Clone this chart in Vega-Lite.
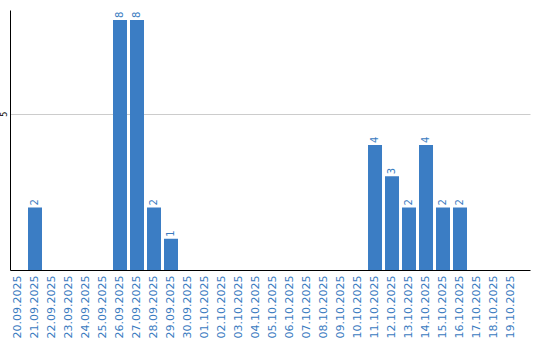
{
  "$schema": "https://vega.github.io/schema/vega-lite/v6.json",
  "width": 520,
  "height": 260,
  "autosize": {"type": "none"},
  "padding": {"left": 10, "top": 10, "right": 10, "bottom": 70},
  "background": "white",
  "config": {"view": {"stroke": null}, "font": "DejaVu Sans"},
  "data": {"values": [
    {"date": "20.09.2025", "v": 0},
    {"date": "21.09.2025", "v": 2},
    {"date": "22.09.2025", "v": 0},
    {"date": "23.09.2025", "v": 0},
    {"date": "24.09.2025", "v": 0},
    {"date": "25.09.2025", "v": 0},
    {"date": "26.09.2025", "v": 8},
    {"date": "27.09.2025", "v": 8},
    {"date": "28.09.2025", "v": 2},
    {"date": "29.09.2025", "v": 1},
    {"date": "30.09.2025", "v": 0},
    {"date": "01.10.2025", "v": 0},
    {"date": "02.10.2025", "v": 0},
    {"date": "03.10.2025", "v": 0},
    {"date": "04.10.2025", "v": 0},
    {"date": "05.10.2025", "v": 0},
    {"date": "06.10.2025", "v": 0},
    {"date": "07.10.2025", "v": 0},
    {"date": "08.10.2025", "v": 0},
    {"date": "09.10.2025", "v": 0},
    {"date": "10.10.2025", "v": 0},
    {"date": "11.10.2025", "v": 4},
    {"date": "12.10.2025", "v": 3},
    {"date": "13.10.2025", "v": 2},
    {"date": "14.10.2025", "v": 4},
    {"date": "15.10.2025", "v": 2},
    {"date": "16.10.2025", "v": 2},
    {"date": "17.10.2025", "v": 0},
    {"date": "18.10.2025", "v": 0},
    {"date": "19.10.2025", "v": 0}
  ]},
  "encoding": {
    "x": {"field": "date", "type": "ordinal", "sort": null,
      "scale": {"paddingInner": 0.1765, "paddingOuter": 0.382, "align": 0.077},
      "axis": {"title": null, "labelAngle": -90, "labelColor": "#3a7bbf", "labelFontSize": 11,
        "domainColor": "#000", "domainWidth": 1, "ticks": false, "labelPadding": 5}},
    "y": {"field": "v", "type": "quantitative",
      "scale": {"domain": [0, 8.32], "nice": false},
      "axis": {"title": null, "values": [5], "labelAngle": -90, "labelFontSize": 8, "labelColor": "#000",
        "labelAlign": "center", "labelBaseline": "bottom", "labelPadding": 2,
        "ticks": false, "domainColor": "#000", "domainWidth": 1, "grid": true, "gridColor": "#cccccc"}}
  },
  "layer": [
    {"mark": {"type": "bar", "color": "#3b7dc4"}},
    {"transform": [{"filter": "datum.v > 0"}],
     "mark": {"type": "text", "angle": -90, "align": "left", "baseline": "middle", "dx": 2, "fontSize": 10, "color": "#3a7bbf"},
     "encoding": {"text": {"field": "v"}}}
  ]
}
